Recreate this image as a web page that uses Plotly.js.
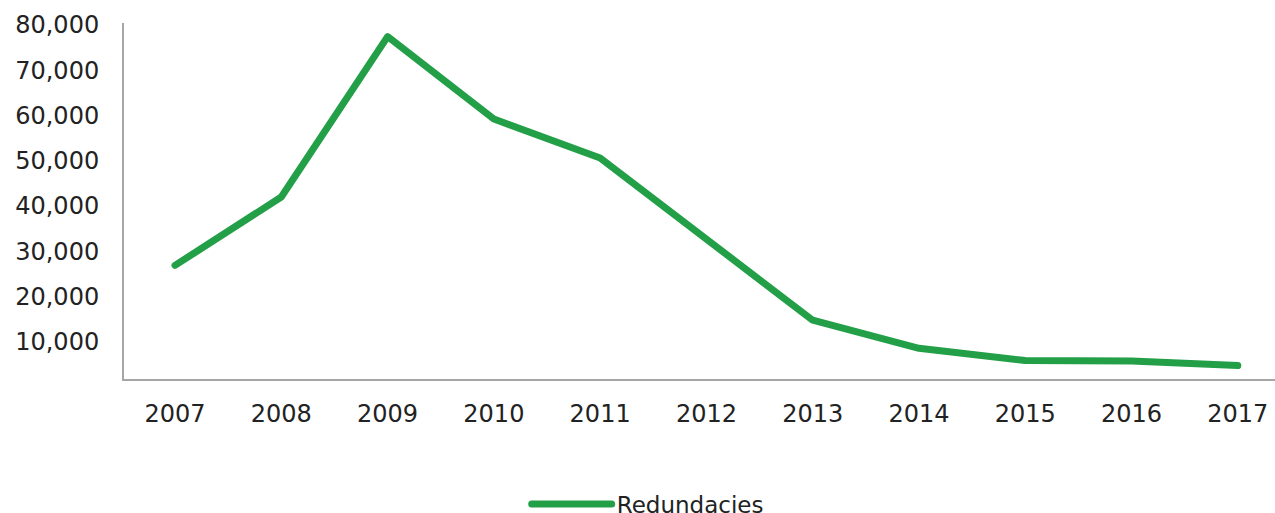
<!DOCTYPE html>
<html>
<head>
<meta charset="utf-8">
<script src="https://cdn.plot.ly/plotly-3.0.1.min.js"></script>
<style>
  html, body { margin: 0; padding: 0; background: #ffffff; overflow: hidden; }
  #chart { width: 1275px; height: 513px; }
  .scatterlayer path.js-line, .legendlines path.js-line { stroke-linecap: round; stroke-linejoin: round; }
</style>
</head>
<body>
<div id="chart"></div>
<script>
const years = ['2007','2008','2009','2010','2011','2012','2013','2014','2015','2016','2017'];
const redundancies = [26900, 42000, 77400, 59200, 50600, 32700, 14800, 8600, 5900, 5800, 4800];
const yTickValues = [10000, 20000, 30000, 40000, 50000, 60000, 70000, 80000];
const seriesName = 'Redundacies';

const fontFamily = 'DejaVu Sans, sans-serif';
const textColor = '#222222';

const trace = {
  type: 'scatter',
  mode: 'lines',
  x: years,
  y: redundancies,
  name: seriesName,
  line: { color: '#23a047', width: 7 },
  hoverinfo: 'x+y'
};

const layout = {
  width: 1275,
  height: 513,
  margin: { l: 124, r: 0, t: 23, b: 134 },
  paper_bgcolor: '#ffffff',
  plot_bgcolor: '#ffffff',
  font: { family: fontFamily, size: 24, color: textColor },
  showlegend: true,
  legend: {
    orientation: 'h',
    xref: 'container', yref: 'container',
    x: 0.508, xanchor: 'center',
    y: 0.0175, yanchor: 'middle',
    itemwidth: 80,
    font: { family: fontFamily, size: 23, color: textColor },
    bgcolor: 'rgba(0,0,0,0)'
  },
  xaxis: {
    type: 'category',
    range: [-0.48, 10.35],
    showgrid: false,
    zeroline: false,
    showline: true,
    linecolor: '#a6a6a6',
    linewidth: 2,
    ticks: '',
    ticklabelstandoff: 12,
    tickfont: { family: fontFamily, size: 24, color: textColor },
    fixedrange: true
  },
  yaxis: {
    range: [1830, 80400],
    tickmode: 'array',
    tickvals: yTickValues,
    tickformat: ',',
    showgrid: false,
    zeroline: false,
    showline: true,
    linecolor: '#a6a6a6',
    linewidth: 2,
    ticks: '',
    ticklabelstandoff: 18,
    tickfont: { family: fontFamily, size: 24, color: textColor },
    fixedrange: true
  }
};

Plotly.newPlot('chart', [trace], layout, { displayModeBar: false, staticPlot: true });
</script>
</body>
</html>
